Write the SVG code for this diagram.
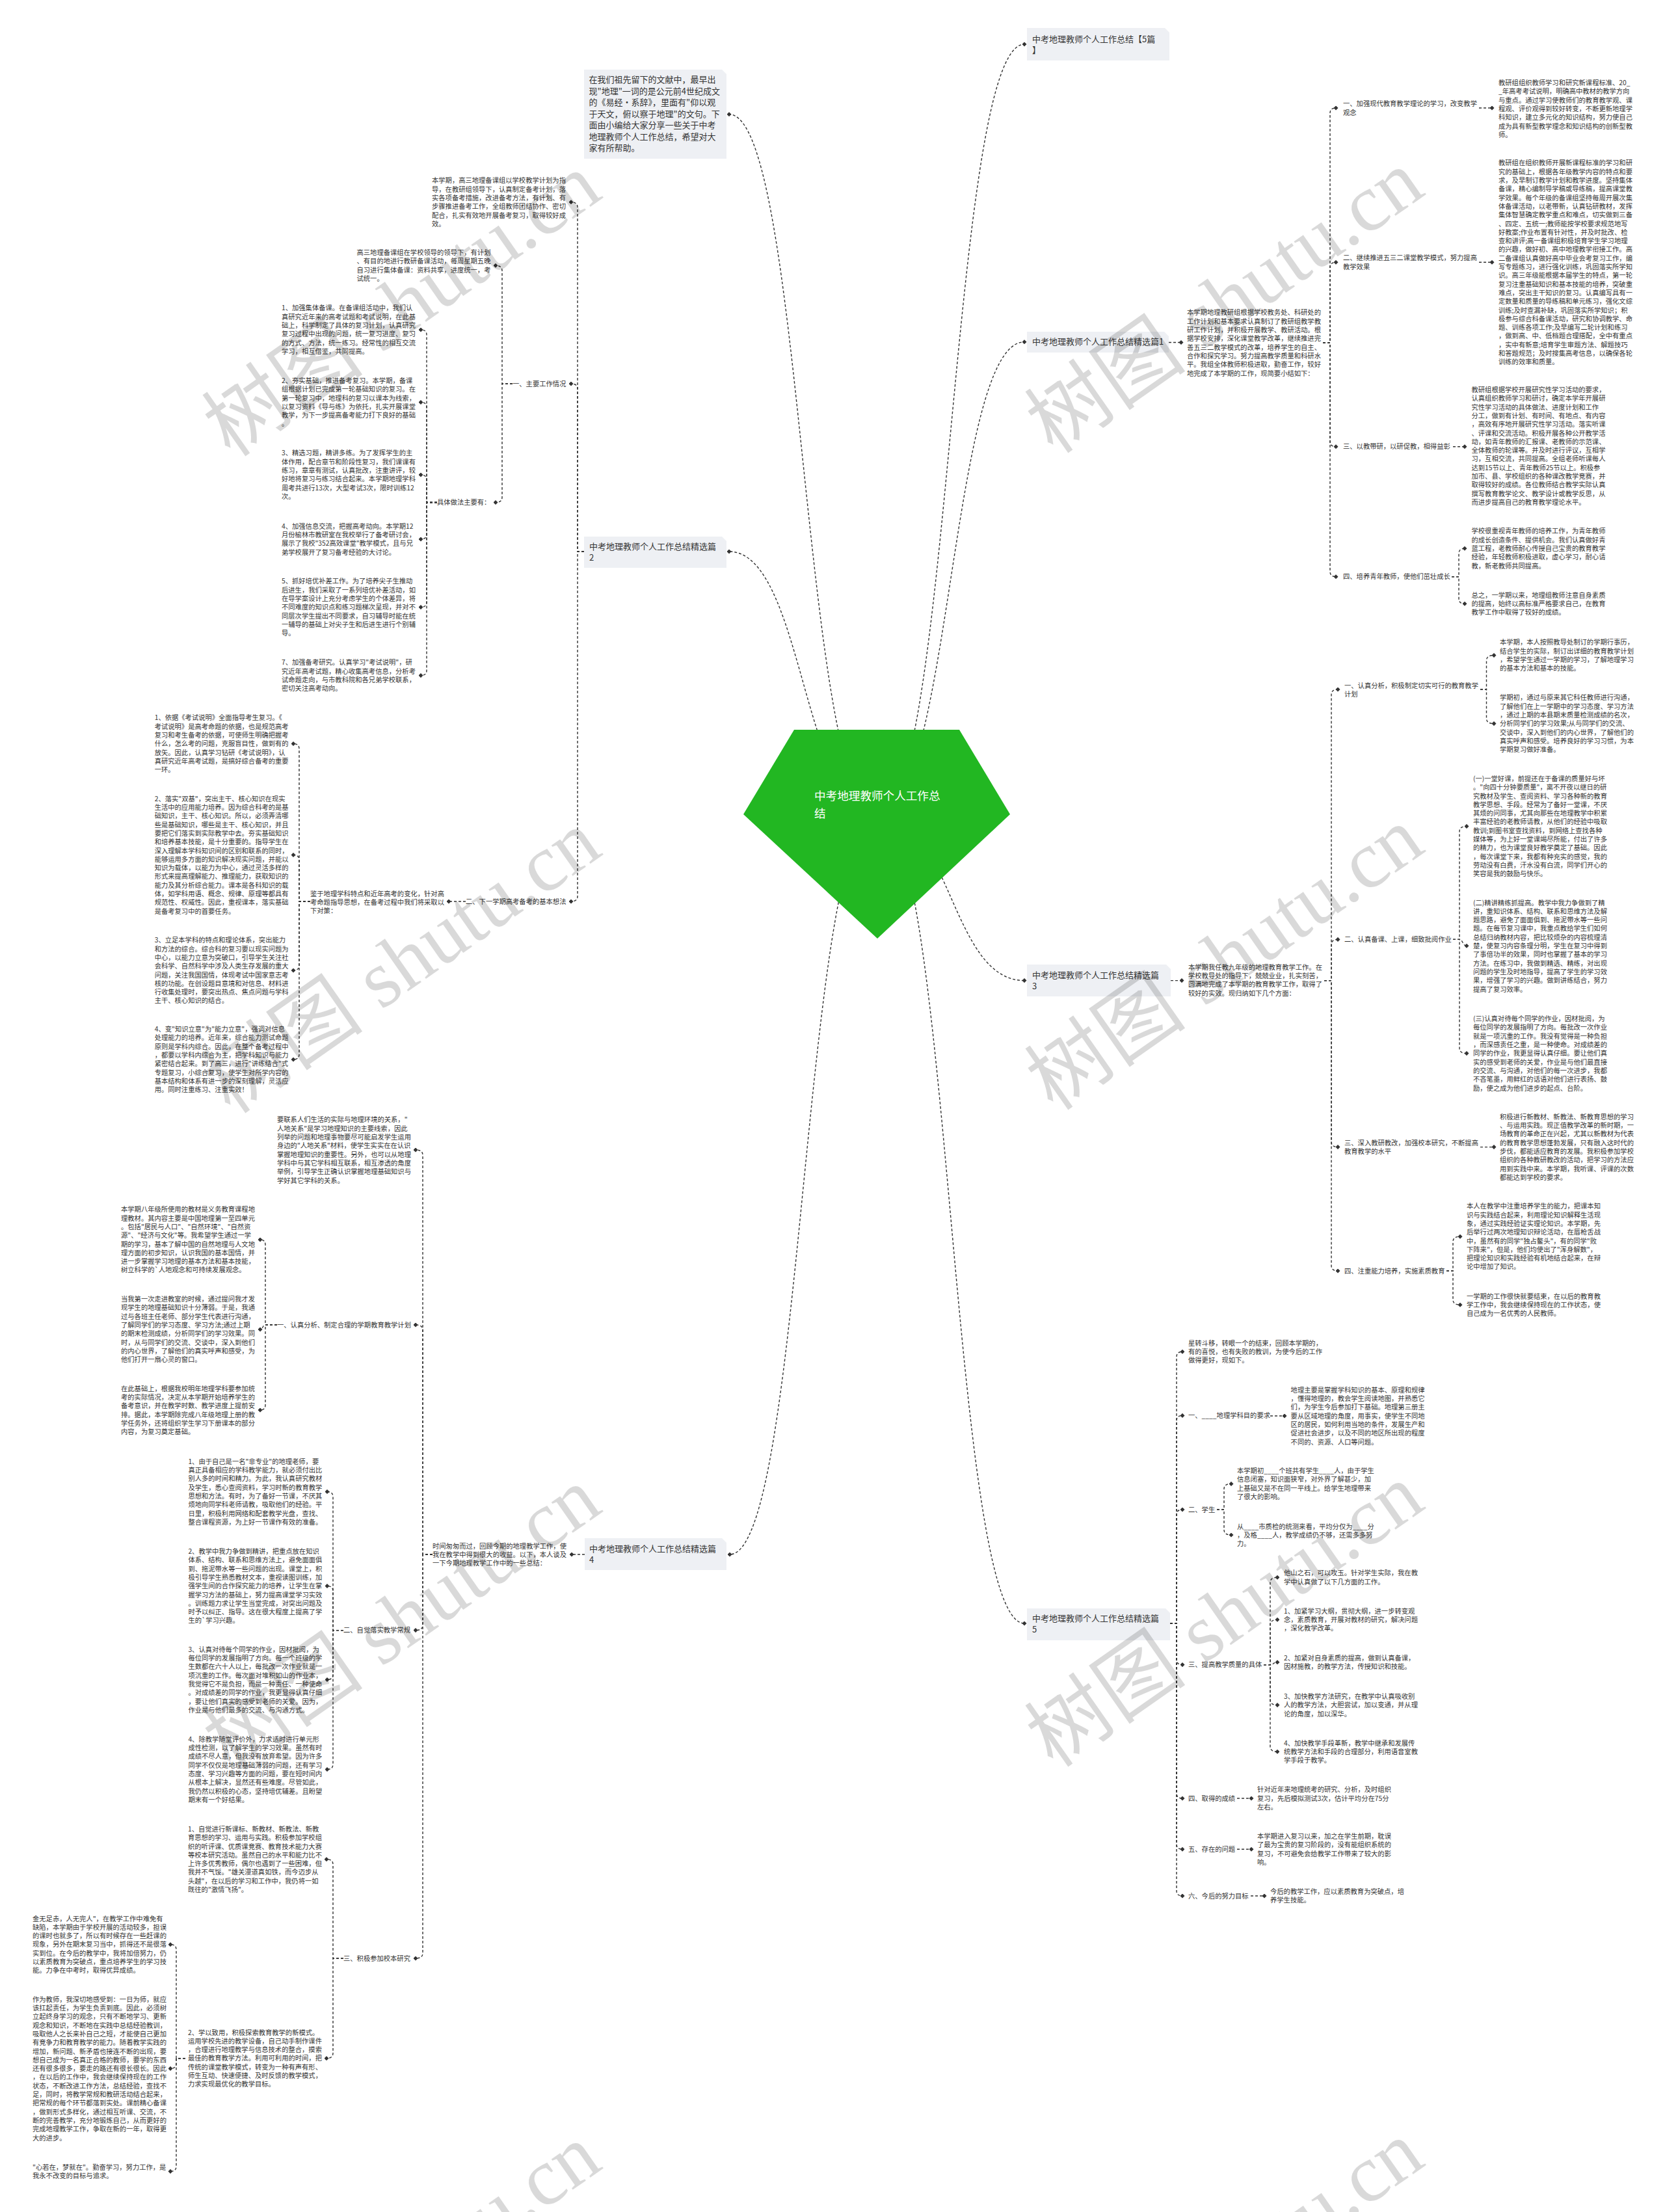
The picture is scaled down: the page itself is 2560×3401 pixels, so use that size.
<svg xmlns="http://www.w3.org/2000/svg" width="2560" height="3401" viewBox="0 0 2560 3401">
<defs>
<style>
.t{font-family:"Noto Sans CJK SC","Liberation Sans",sans-serif;font-size:10.3px;fill:#333}
.bt{font-family:"Noto Sans CJK SC","Liberation Sans",sans-serif;font-size:13px;fill:#333}
.ct{font-family:"Noto Sans CJK SC","Liberation Sans",sans-serif;font-size:17.6px;fill:#fff}
.box{fill:#eef0f4}
.c{fill:none;stroke:#333;stroke-width:1.4;stroke-dasharray:4 3;marker-end:url(#d)}
.wm{font-family:"Liberation Serif","Noto Sans CJK SC",serif;font-size:125px;fill:#000;fill-opacity:0.15}
</style>
<marker id="d" viewBox="0 0 8 8" refX="4" refY="4" markerWidth="7" markerHeight="7" markerUnits="userSpaceOnUse" orient="auto"><path d="M0,4 L4,0 L8,4 L4,8 Z" fill="#333"/></marker>
</defs>
<rect width="2560" height="3401" fill="#fff"/>

<g id="connectors">
<path class="c" d="M1349,1252 C1235,1252 1235,175.7 1121,175.7"/>
<path class="c" d="M1349,1252 C1235,1252 1235,848 1121,848"/>
<path class="c" d="M1349,1252 C1235.5,1252 1235.5,2390 1122,2390"/>
<path class="c" d="M1349,1252 C1462,1252 1462,68 1575,68"/>
<path class="c" d="M1349,1252 C1462,1252 1462,525.7 1575,525.7"/>
<path class="c" d="M1349,1252 C1462,1252 1462,1507.6 1575,1507.6"/>
<path class="c" d="M1349,1252 C1462,1252 1462,2496 1575,2496"/>

<path class="c" d="M898,848 H888 V318.7 Q888,310.7 878,310.7"/>
<path class="c" d="M898,848 H888 V598 Q888,590 878,590"/>
<path class="c" d="M898,848 H888 V1378 Q888,1386 878,1386"/>
<path class="c" d="M788,590 H772 V416.3 Q772,408.3 762,408.3"/>
<path class="c" d="M788,590 H772 V764.5 Q772,772.5 762,772.5"/>
<path class="c" d="M672,772.5 H656 V515 Q656,507 647,507"/>
<path class="c" d="M672,772.5 H656 V626.5 Q656,618.5 647,618.5"/>
<path class="c" d="M672,772.5 H656 V738 Q656,730 647,730"/>
<path class="c" d="M672,772.5 H656 V821 Q656,829 647,829"/>
<path class="c" d="M672,772.5 H656 V925.6 Q656,933.6 647,933.6"/>
<path class="c" d="M672,772.5 H656 V1030.6 Q656,1038.6 647,1038.6"/>
<path class="c" d="M716,1386 H690"/>
<path class="c" d="M477,1386 H460 V1151.5 Q460,1143.5 451,1143.5"/>
<path class="c" d="M477,1386 H460 V1322.5 Q460,1314.5 451,1314.5"/>
<path class="c" d="M477,1386 H460 V1484 Q460,1492 451,1492"/>
<path class="c" d="M477,1386 H460 V1621 Q460,1629 451,1629"/>

<path class="c" d="M899,2390 H879"/>
<path class="c" d="M665,2390 H650 V1776 Q650,1768 639,1768"/>
<path class="c" d="M665,2390 H650 V2045 Q650,2037 639,2037"/>
<path class="c" d="M665,2390 H650 V2498.6 Q650,2506.6 639,2506.6"/>
<path class="c" d="M665,2390 H650 V3003 Q650,3011 639,3011"/>
<path class="c" d="M426,2037 H408 V1914 Q408,1906 400,1906"/>
<path class="c" d="M426,2037 H408 C404,2037 404,2044 400,2044"/>
<path class="c" d="M426,2037 H408 V2160 Q408,2168 400,2168"/>
<path class="c" d="M528,2506.6 H512 V2301.5 Q512,2293.5 503,2293.5"/>
<path class="c" d="M528,2506.6 H512 V2446.5 Q512,2438.5 503,2438.5"/>
<path class="c" d="M528,2506.6 H512 V2574.5 Q512,2582.5 503,2582.5"/>
<path class="c" d="M528,2506.6 H512 V2712.5 Q512,2720.5 503,2720.5"/>
<path class="c" d="M528,3011 H512 V2866.7 Q512,2858.7 502,2858.7"/>
<path class="c" d="M528,3011 H512 V3156.7 Q512,3164.7 502,3164.7"/>
<path class="c" d="M285,3164.7 H271 V2997.7 Q271,2989.7 262,2989.7"/>
<path class="c" d="M285,3164.7 H271 V3172.4 Q271,3180.4 262,3180.4"/>
<path class="c" d="M285,3164.7 H271 V3330.6 Q271,3338.6 262,3338.6"/>

<path class="c" d="M1797,526.5 H1816"/>
<path class="c" d="M2034,527 H2045 V174 Q2045,166 2054,166"/>
<path class="c" d="M2034,527 H2045 V411.3 Q2045,403.3 2054,403.3"/>
<path class="c" d="M2034,527 H2045 V678.7 Q2045,686.7 2054,686.7"/>
<path class="c" d="M2034,527 H2045 V878.7 Q2045,886.7 2054,886.7"/>
<path class="c" d="M2274,166 H2294"/>
<path class="c" d="M2274,403.3 H2294"/>
<path class="c" d="M2234,686.7 H2252"/>
<path class="c" d="M2232,886.7 H2243 V851.3 Q2243,843.3 2252,843.3"/>
<path class="c" d="M2232,886.7 H2243 V920.3 Q2243,928.3 2252,928.3"/>

<path class="c" d="M1800,1507.6 H1817"/>
<path class="c" d="M2036,1507.6 H2047 V1068 Q2047,1060 2057,1060"/>
<path class="c" d="M2036,1507.6 H2047 V1452.4 Q2047,1444.4 2057,1444.4"/>
<path class="c" d="M2036,1507.6 H2047 V1755.6 Q2047,1763.6 2057,1763.6"/>
<path class="c" d="M2036,1507.6 H2047 V1946 Q2047,1954 2057,1954"/>
<path class="c" d="M2276,1060 H2285.5 V1015.6 Q2285.5,1007.6 2297,1007.6"/>
<path class="c" d="M2276,1060 H2285.5 V1104.6 Q2285.5,1112.6 2297,1112.6"/>
<path class="c" d="M2234,1444.4 H2244 V1278.4 Q2244,1270.4 2255,1270.4"/>
<path class="c" d="M2234,1444.4 H2244 C2249,1444.4 2249,1454.3 2255,1454.3"/>
<path class="c" d="M2234,1444.4 H2244 V1611.6 Q2244,1619.6 2255,1619.6"/>
<path class="c" d="M2276,1763.6 H2297"/>
<path class="c" d="M2224,1954 H2234 V1909.2 Q2234,1901.2 2245,1901.2"/>
<path class="c" d="M2224,1954 H2234 V1998.2 Q2234,2006.2 2245,2006.2"/>

<path class="c" d="M1799,2496 H1809 V2086.3 Q1809,2078.3 1818,2078.3"/>
<path class="c" d="M1799,2496 H1809 V2184.4 Q1809,2176.4 1818,2176.4"/>
<path class="c" d="M1799,2496 H1809 V2329 Q1809,2321 1818,2321"/>
<path class="c" d="M1799,2496 H1809 V2551.6 Q1809,2559.6 1818,2559.6"/>
<path class="c" d="M1799,2496 H1809 V2757 Q1809,2765 1818,2765"/>
<path class="c" d="M1799,2496 H1809 V2835.3 Q1809,2843.3 1818,2843.3"/>
<path class="c" d="M1799,2496 H1809 V2907 Q1809,2915 1818,2915"/>
<path class="c" d="M1953,2177 H1975"/>
<path class="c" d="M1871,2321 H1882 V2289.4 Q1882,2281.4 1893,2281.4"/>
<path class="c" d="M1871,2321 H1882 V2352.1 Q1882,2360.1 1893,2360.1"/>
<path class="c" d="M1943,2559.6 H1953 V2433.3 Q1953,2425.3 1964,2425.3"/>
<path class="c" d="M1943,2559.6 H1953 V2498.3 Q1953,2490.3 1964,2490.3"/>
<path class="c" d="M1943,2559.6 H1953 C1958,2559.6 1958,2555.7 1964,2555.7"/>
<path class="c" d="M1943,2559.6 H1953 V2613.6 Q1953,2621.6 1964,2621.6"/>
<path class="c" d="M1943,2559.6 H1953 V2685.3 Q1953,2693.3 1964,2693.3"/>
<path class="c" d="M1902,2765 H1924"/>
<path class="c" d="M1902,2843.3 H1924"/>
<path class="c" d="M1923,2915 H1944"/>
</g>

<g id="center">
<polygon points="1221,1122 1475,1122 1553,1252 1349,1443 1143,1252" fill="#22b722"/>
<text class="ct" x="1252" y="1230"><tspan x="1252">中考地理教师个人工作总</tspan><tspan x="1252" dy="27">结</tspan></text>
</g>

<g id="intro">
<path class="box" d="M898,107 H1110 L1117,114 V244 H898 Z"/>
<text class="bt" x="905.5" y="127"><tspan x="905.5">在我们祖先留下的文献中，最早出</tspan><tspan x="905.5" dy="17.5">现"地理"一词的是公元前4世纪成文</tspan><tspan x="905.5" dy="17.5">的《易经·系辞》，里面有"仰以观</tspan><tspan x="905.5" dy="17.5">于天文，俯以察于地理"的文句。下</tspan><tspan x="905.5" dy="17.5">面由小编给大家分享一些关于中考</tspan><tspan x="905.5" dy="17.5">地理教师个人工作总结，希望对大</tspan><tspan x="905.5" dy="17.5">家有所帮助。</tspan></text>
</g>

<g id="pian2">
<path class="box" d="M898,825 H1110 L1117,832 V873 H898 Z"/>
<text class="bt" x="906" y="844.7"><tspan x="906">中考地理教师个人工作总结精选篇</tspan><tspan x="906" dy="17.5">2</tspan></text>
</g>
<g id="p2-intro">
<text class="t" x="664" y="281.4"><tspan x="664">本学期，高三地理备课组以学校教学计划为指</tspan><tspan x="664" dy="13.3">导，在教研组领导下，认真制定备考计划，落</tspan><tspan x="664" dy="13.3">实各项备考措施，改进备考方法，有计划、有</tspan><tspan x="664" dy="13.3">步骤推进备考工作，全组教师团结协作、密切</tspan><tspan x="664" dy="13.3">配合，扎实有效地开展备考复习，取得较好成</tspan><tspan x="664" dy="13.3">效。</tspan></text>
</g>
<g id="p2-1"><text class="t" x="788" y="593.7">一、主要工作情况</text></g>
<g id="p2-1a">
<text class="t" x="548.5" y="392"><tspan x="548.5">高三地理备课组在学校领导的领导下，有计划</tspan><tspan x="548.5" dy="13.3">、有目的地进行教研备课活动，每周星期五晚</tspan><tspan x="548.5" dy="13.3">自习进行集体备课：资料共享，进度统一，考</tspan><tspan x="548.5" dy="13.3">试统一。</tspan></text>
</g>
<g id="p2-1b"><text class="t" x="672" y="776.2">具体做法主要有：</text></g>
<g id="p2-1b-1">
<text class="t" x="433" y="477.4"><tspan x="433">1、加强集体备课。在备课组活动中，我们认</tspan><tspan x="433" dy="13.3">真研究近年来的高考试题和考试说明，在此基</tspan><tspan x="433" dy="13.3">础上，科学制定了具体的复习计划，认真研究</tspan><tspan x="433" dy="13.3">复习过程中出现的问题，统一复习进度、复习</tspan><tspan x="433" dy="13.3">的方式、方法，统一练习。经常性的相互交流</tspan><tspan x="433" dy="13.3">学习，相互借鉴，共同提高。</tspan></text>
</g>
<g id="p2-1b-2">
<text class="t" x="433" y="588.9"><tspan x="433">2、夯实基础，推进备考复习。本学期，备课</tspan><tspan x="433" dy="13.3">组根据计划已完成第一轮基础知识的复习。在</tspan><tspan x="433" dy="13.3">第一轮复习中，地理科的复习以课本为线索，</tspan><tspan x="433" dy="13.3">以复习资料《导与练》为依托，扎实开展课堂</tspan><tspan x="433" dy="13.3">教学，为下一步提高备考能力打下良好的基础</tspan><tspan x="433" dy="13.3">。</tspan></text>
</g>
<g id="p2-1b-3">
<text class="t" x="433" y="700.4"><tspan x="433">3、精选习题，精讲多练。为了发挥学生的主</tspan><tspan x="433" dy="13.3">体作用，配合章节和阶段性复习，我们课课有</tspan><tspan x="433" dy="13.3">练习，章章有测试，认真批改，注重讲评，较</tspan><tspan x="433" dy="13.3">好地将复习与练习结合起来。本学期地理学科</tspan><tspan x="433" dy="13.3">周考共进行13次，大型考试3次，限时训练12</tspan><tspan x="433" dy="13.3">次。</tspan></text>
</g>
<g id="p2-1b-4">
<text class="t" x="433" y="812.7"><tspan x="433">4、加强信息交流，把握高考动向。本学期12</tspan><tspan x="433" dy="13.3">月份榆林市教研室在我校举行了备考研讨会，</tspan><tspan x="433" dy="13.3">展示了我校"352高效课堂"教学模式，且与兄</tspan><tspan x="433" dy="13.3">弟学校展开了复习备考经验的大讨论。</tspan></text>
</g>
<g id="p2-1b-5">
<text class="t" x="433" y="897.4"><tspan x="433">5、抓好培优补差工作。为了培养尖子生推动</tspan><tspan x="433" dy="13.3">后进生，我们采取了一系列培优补差活动，如</tspan><tspan x="433" dy="13.3">在导学案设计上充分考虑学生的个体差异，将</tspan><tspan x="433" dy="13.3">不同难度的知识点和练习题梯次呈现，并对不</tspan><tspan x="433" dy="13.3">同层次学生提出不同要求，自习辅导时能在统</tspan><tspan x="433" dy="13.3">一辅导的基础上对尖子生和后进生进行个别辅</tspan><tspan x="433" dy="13.3">导。</tspan></text>
</g>
<g id="p2-1b-7">
<text class="t" x="433" y="1022.4"><tspan x="433">7、加强备考研究。认真学习"考试说明"，研</tspan><tspan x="433" dy="13.3">究近年高考试题，精心收集高考信息，分析考</tspan><tspan x="433" dy="13.3">试命题走向，与市教科院和各兄弟学校联系，</tspan><tspan x="433" dy="13.3">密切关注高考动向。</tspan></text>
</g>
<g id="p2-2"><text class="t" x="716" y="1389.7">二、下一学期高考备考的基本想法</text></g>
<g id="p2-2a">
<text class="t" x="477" y="1377.7"><tspan x="477">鉴于地理学科特点和近年高考的变化，针对高</tspan><tspan x="477" dy="13.3">考命题指导思想，在备考过程中我们将采取以</tspan><tspan x="477" dy="13.3">下对策：</tspan></text>
</g>
<g id="p2-2a-1">
<text class="t" x="237.7" y="1107.3"><tspan x="237.7">1、依据《考试说明》全面指导考生复习。《</tspan><tspan x="237.7" dy="13.3">考试说明》是高考命题的依据，也是规范高考</tspan><tspan x="237.7" dy="13.3">复习和考生备考的依据，可使师生明确把握考</tspan><tspan x="237.7" dy="13.3">什么，怎么考的问题，克服盲目性，做到有的</tspan><tspan x="237.7" dy="13.3">放矢。因此，认真学习钻研《考试说明》，认</tspan><tspan x="237.7" dy="13.3">真研究近年高考试题，是搞好综合备考的重要</tspan><tspan x="237.7" dy="13.3">一环。</tspan></text>
</g>
<g id="p2-2a-2">
<text class="t" x="237.7" y="1231.7"><tspan x="237.7">2、落实"双基"，突出主干、核心知识在现实</tspan><tspan x="237.7" dy="13.3">生活中的应用能力培养。因为综合科考的是基</tspan><tspan x="237.7" dy="13.3">础知识，主干、核心知识。所以，必须弄清哪</tspan><tspan x="237.7" dy="13.3">些是基础知识，哪些是主干、核心知识，并且</tspan><tspan x="237.7" dy="13.3">要把它们落实到实际教学中去。夯实基础知识</tspan><tspan x="237.7" dy="13.3">和培养基本技能，是十分重要的。指导学生在</tspan><tspan x="237.7" dy="13.3">深入理解本学科知识间的区别和联系的同时，</tspan><tspan x="237.7" dy="13.3">能够运用多方面的知识解决现实问题，并能以</tspan><tspan x="237.7" dy="13.3">知识为载体，以能力为中心，通过灵活多样的</tspan><tspan x="237.7" dy="13.3">形式来提高理解能力、推理能力，获取知识的</tspan><tspan x="237.7" dy="13.3">能力及其分析综合能力。课本是各科知识的载</tspan><tspan x="237.7" dy="13.3">体，如学科用语、概念、规律、原理等都具有</tspan><tspan x="237.7" dy="13.3">规范性、权威性。因此，重视课本，落实基础</tspan><tspan x="237.7" dy="13.3">是备考复习中的首要任务。</tspan></text>
</g>
<g id="p2-2a-3">
<text class="t" x="237.7" y="1449.3"><tspan x="237.7">3、立足本学科的特点和理论体系，突出能力</tspan><tspan x="237.7" dy="13.3">和方法的综合。综合科的复习要以现实问题为</tspan><tspan x="237.7" dy="13.3">中心，以能力立意为突破口，引导学生关注社</tspan><tspan x="237.7" dy="13.3">会科学、自然科学中涉及人类生存发展的重大</tspan><tspan x="237.7" dy="13.3">问题，关注我国国情，体现考试中国家意志考</tspan><tspan x="237.7" dy="13.3">核的功能。在创设题目意境和对信息、材料进</tspan><tspan x="237.7" dy="13.3">行收集处理时，要突出热点、焦点问题与学科</tspan><tspan x="237.7" dy="13.3">主干、核心知识的结合。</tspan></text>
</g>
<g id="p2-2a-4">
<text class="t" x="237.7" y="1586.1"><tspan x="237.7">4、变"知识立意"为"能力立意"，强调对信息</tspan><tspan x="237.7" dy="13.3">处理能力的培养。近年来，综合能力测试命题</tspan><tspan x="237.7" dy="13.3">原则是学科内综合。因此，在整个备考过程中</tspan><tspan x="237.7" dy="13.3">，都要以学科内综合为主，把学科知识与能力</tspan><tspan x="237.7" dy="13.3">紧密结合起来。到了高三，进行"讲练结合"式</tspan><tspan x="237.7" dy="13.3">专题复习，小综合复习，使学生对所学内容的</tspan><tspan x="237.7" dy="13.3">基本结构和体系有进一步的深刻理解，灵活应</tspan><tspan x="237.7" dy="13.3">用。同时注重练习、注重实效！</tspan></text>
</g>

<g id="pian4">
<path class="box" d="M899,2365 H1110 L1117,2372 V2414 H899 Z"/>
<text class="bt" x="906" y="2385.7"><tspan x="906">中考地理教师个人工作总结精选篇</tspan><tspan x="906" dy="17.5">4</tspan></text>
</g>
<g id="p4-intro">
<text class="t" x="665" y="2380.7"><tspan x="665">时间匆匆而过，回顾今期的地理教学工作，使</tspan><tspan x="665" dy="13.3">我在教学中得到很大的收益。以下，本人谈及</tspan><tspan x="665" dy="13.3">一下今期地理教学工作中的一些总结：</tspan></text>
</g>
<g id="p4-a">
<text class="t" x="426" y="1725.4"><tspan x="426">要联系人们生活的实际与地理环境的关系，"</tspan><tspan x="426" dy="13.3">人地关系"是学习地理知识的主要线索，因此</tspan><tspan x="426" dy="13.3">列举的问题和地理事物要尽可能启发学生运用</tspan><tspan x="426" dy="13.3">身边的"人地关系"材料，使学生实实在在认识</tspan><tspan x="426" dy="13.3">掌握地理知识的重要性。另外，也可以从地理</tspan><tspan x="426" dy="13.3">学科中与其它学科相互联系，相互渗透的角度</tspan><tspan x="426" dy="13.3">举例，引导学生正确认识掌握地理基础知识与</tspan><tspan x="426" dy="13.3">学好其它学科的关系。</tspan></text>
</g>
<g id="p4-1"><text class="t" x="426" y="2041.1">一、认真分析、制定合理的学期教育教学计划</text></g>
<g id="p4-1-1">
<text class="t" x="186" y="1863.3"><tspan x="186">本学期八年级所使用的教材是义务教育课程地</tspan><tspan x="186" dy="13.3">理教材。其内容主要是中国地理第一至四单元</tspan><tspan x="186" dy="13.3">。包括"居民与人口"、"自然环境"、"自然资</tspan><tspan x="186" dy="13.3">源"、"经济与文化"等。我希望学生通过一学</tspan><tspan x="186" dy="13.3">期的学习，基本了解中国的自然地理与人文地</tspan><tspan x="186" dy="13.3">理方面的初步知识，认识我国的基本国情，并</tspan><tspan x="186" dy="13.3">进一步掌握学习地理的基本方法和基本技能，</tspan><tspan x="186" dy="13.3">树立科学的`人地观念和可持续发展观念。</tspan></text>
</g>
<g id="p4-1-2">
<text class="t" x="186" y="2001.1"><tspan x="186">当我第一次走进教室的时候，通过提问我才发</tspan><tspan x="186" dy="13.3">现学生的地理基础知识十分薄弱。于是，我通</tspan><tspan x="186" dy="13.3">过与各班主任老师、部分学生代表进行沟通，</tspan><tspan x="186" dy="13.3">了解同学们的学习态度、学习方法;通过上期</tspan><tspan x="186" dy="13.3">的期末检测成绩，分析同学们的学习效果。同</tspan><tspan x="186" dy="13.3">时，从与同学们的交流、交谈中，深入到他们</tspan><tspan x="186" dy="13.3">的内心世界，了解他们的真实呼声和感受，为</tspan><tspan x="186" dy="13.3">他们打开一扇心灵的窗口。</tspan></text>
</g>
<g id="p4-1-3">
<text class="t" x="186" y="2138.7"><tspan x="186">在此基础上，根据我校明年地理学科要参加统</tspan><tspan x="186" dy="13.3">考的实际情况，决定从本学期开始培养学生的</tspan><tspan x="186" dy="13.3">备考意识，并在教学时数、教学进度上提前安</tspan><tspan x="186" dy="13.3">排。据此，本学期除完成八年级地理上册的教</tspan><tspan x="186" dy="13.3">学任务外，还将组织学生学习下册课本的部分</tspan><tspan x="186" dy="13.3">内容，为复习奠定基础。</tspan></text>
</g>
<g id="p4-2"><text class="t" x="528" y="2510.3">二、自觉落实教学常规</text></g>
<g id="p4-2-1">
<text class="t" x="289.4" y="2250.7"><tspan x="289.4">1、由于自己是一名"非专业"的地理老师，要</tspan><tspan x="289.4" dy="13.3">真正具备相应的学科教学能力，就必须付出比</tspan><tspan x="289.4" dy="13.3">别人多的时间和精力。为此，我认真研究教材</tspan><tspan x="289.4" dy="13.3">及学生，悉心查阅资料，学习时新的教育教学</tspan><tspan x="289.4" dy="13.3">思想和方法。有时，为了备好一节课，不厌其</tspan><tspan x="289.4" dy="13.3">烦地向同学科老师请教，吸取他们的经验。平</tspan><tspan x="289.4" dy="13.3">日里，积极利用网络和配套教学光盘，查找、</tspan><tspan x="289.4" dy="13.3">整合课程资源，为上好一节课作有效的准备。</tspan></text>
</g>
<g id="p4-2-2">
<text class="t" x="289.4" y="2389"><tspan x="289.4">2、教学中我力争做到精讲，把重点放在知识</tspan><tspan x="289.4" dy="13.3">体系、结构、联系和思维方法上，避免面面俱</tspan><tspan x="289.4" dy="13.3">到、拖泥带水等一些问题的出现。课堂上，积</tspan><tspan x="289.4" dy="13.3">极引导学生熟悉教材文本，重视读图训练，加</tspan><tspan x="289.4" dy="13.3">强学生间的合作探究能力的培养，让学生在掌</tspan><tspan x="289.4" dy="13.3">握学习方法的基础上，努力提高课堂学习实效</tspan><tspan x="289.4" dy="13.3">。训练题力求让学生当堂完成，对突出问题及</tspan><tspan x="289.4" dy="13.3">时予以纠正、指导。这在很大程度上提高了学</tspan><tspan x="289.4" dy="13.3">生的`学习兴趣。</tspan></text>
</g>
<g id="p4-2-3">
<text class="t" x="289.4" y="2539.7"><tspan x="289.4">3、认真对待每个同学的作业，因材批阅，为</tspan><tspan x="289.4" dy="13.3">每位同学的发展指明了方向。每一个班级的学</tspan><tspan x="289.4" dy="13.3">生数都在六十人以上，每批改一次作业就是一</tspan><tspan x="289.4" dy="13.3">项沉重的工作。每次面对堆积如山的作业本，</tspan><tspan x="289.4" dy="13.3">我觉得它不是负担，而是一种责任、一种使命</tspan><tspan x="289.4" dy="13.3">。对成绩差的同学的作业，我更显得认真仔细</tspan><tspan x="289.4" dy="13.3">，要让他们真实的感受到老师的关爱。因为，</tspan><tspan x="289.4" dy="13.3">作业是与他们最多的交流、与沟通方式。</tspan></text>
</g>
<g id="p4-2-4">
<text class="t" x="289.4" y="2677.7"><tspan x="289.4">4、除教学随堂评价外，力求适时进行单元形</tspan><tspan x="289.4" dy="13.3">成性检测，以了解学生的学习效果。虽然有时</tspan><tspan x="289.4" dy="13.3">成绩不尽人意，但我没有放弃希望。因为许多</tspan><tspan x="289.4" dy="13.3">同学不仅仅是地理基础薄弱的问题，还有学习</tspan><tspan x="289.4" dy="13.3">态度、学习兴趣等方面的问题，要在短时间内</tspan><tspan x="289.4" dy="13.3">从根本上解决，显然还有些难度。尽管如此，</tspan><tspan x="289.4" dy="13.3">我仍然以积极的心态，坚持培优辅差。且盼望</tspan><tspan x="289.4" dy="13.3">期末有一个好结果。</tspan></text>
</g>
<g id="p4-3"><text class="t" x="528" y="3014.7">三、积极参加校本研究</text></g>
<g id="p4-3-1">
<text class="t" x="289" y="2815.9"><tspan x="289">1、自觉进行新课标、新教材、新教法、新教</tspan><tspan x="289" dy="13.3">育思想的学习、运用与实践。积极参加学校组</tspan><tspan x="289" dy="13.3">织的听评课、优质课竞赛、教育技术能力大赛</tspan><tspan x="289" dy="13.3">等校本研究活动。虽然自己的水平和能力比不</tspan><tspan x="289" dy="13.3">上许多优秀教师，偶尔也遇到了一些困难，但</tspan><tspan x="289" dy="13.3">我并不气馁。"雄关漫道真如铁，而今迈步从</tspan><tspan x="289" dy="13.3">头越"，在以后的学习和工作中，我仍将一如</tspan><tspan x="289" dy="13.3">既往的"激情飞扬"。</tspan></text>
</g>
<g id="p4-3-2">
<text class="t" x="289" y="3128.5"><tspan x="289">2、学以致用，积极探索教育教学的新模式。</tspan><tspan x="289" dy="13.3">运用学校先进的教学设备，自己动手制作课件</tspan><tspan x="289" dy="13.3">，合理进行地理教学与信息技术的整合，摸索</tspan><tspan x="289" dy="13.3">最佳的教育教学方法。利用可利用的时间，把</tspan><tspan x="289" dy="13.3">传统的课堂教学模式，转变为一种有声有形、</tspan><tspan x="289" dy="13.3">师生互动、快速便捷、及时反馈的教学模式，</tspan><tspan x="289" dy="13.3">力求实现最优化的教学目标。</tspan></text>
</g>
<g id="p4-3-2-a">
<text class="t" x="50" y="2953.5"><tspan x="50">金无足赤，人无完人"，在教学工作中难免有</tspan><tspan x="50" dy="13.3">缺陷，本学期由于学校开展的活动较多，担误</tspan><tspan x="50" dy="13.3">的课时也就多了，所以有时候存在一些赶课的</tspan><tspan x="50" dy="13.3">现象，另外在期末复习当中，抓得还不是很落</tspan><tspan x="50" dy="13.3">实到位。在今后的教学中，我将加倍努力，仍</tspan><tspan x="50" dy="13.3">以素质教育为突破点，重点培养学生的学习技</tspan><tspan x="50" dy="13.3">能。力争在中考时，取得优异成绩。</tspan></text>
</g>
<g id="p4-3-2-b">
<text class="t" x="50" y="3077.7"><tspan x="50">作为教师，我深切地感受到：一日为师，就应</tspan><tspan x="50" dy="13.3">该扛起责任，为学生负责到底。因此，必须树</tspan><tspan x="50" dy="13.3">立起终身学习的观念，只有不断地学习、更新</tspan><tspan x="50" dy="13.3">观念和知识，不断地在实践中总结经验教训，</tspan><tspan x="50" dy="13.3">吸取他人之长来补自己之短，才能使自己更加</tspan><tspan x="50" dy="13.3">有竞争力和教育教学的能力。随着教学实践的</tspan><tspan x="50" dy="13.3">增加，新问题、新矛盾也接连不断的出现，要</tspan><tspan x="50" dy="13.3">想自己成为一名真正合格的教师，要学的东西</tspan><tspan x="50" dy="13.3">还有很多很多，要走的路还有很长很长。因此</tspan><tspan x="50" dy="13.3">，在以后的工作中，我会继续保持现在的工作</tspan><tspan x="50" dy="13.3">状态，不断改进工作方法，总结经验，查找不</tspan><tspan x="50" dy="13.3">足，同时，将教学常规和教研活动结合起来，</tspan><tspan x="50" dy="13.3">把常规的每个环节都落到实处。课前精心备课</tspan><tspan x="50" dy="13.3">，做到形式多样化，通过相互听课、交流，不</tspan><tspan x="50" dy="13.3">断的完善教学，充分地锻炼自己，从而更好的</tspan><tspan x="50" dy="13.3">完成地理教学工作，争取在新的一年，取得更</tspan><tspan x="50" dy="13.3">大的进步。</tspan></text>
</g>
<g id="p4-3-2-c">
<text class="t" x="50" y="3335.7"><tspan x="50">"心若在，梦就在"。勤奋学习，努力工作，是</tspan><tspan x="50" dy="13.3">我永不改变的目标与追求。</tspan></text>
</g>

<g id="pian5-title">
<path class="box" d="M1579,43 H1791 L1798,50 V93 H1579 Z"/>
<text class="bt" x="1587" y="64.7"><tspan x="1587">中考地理教师个人工作总结【5篇</tspan><tspan x="1587" dy="17.5">】</tspan></text>
</g>

<g id="pian1">
<path class="box" d="M1579,510 H1790 L1797,517 V542 H1579 Z"/>
<text class="bt" x="1587" y="530.4">中考地理教师个人工作总结精选篇1</text>
</g>
<g id="p1-intro">
<text class="t" x="1825" y="484.4"><tspan x="1825">本学期地理教研组根据学校教务处、科研处的</tspan><tspan x="1825" dy="13.3">工作计划和基本要求认真制订了教研组教学教</tspan><tspan x="1825" dy="13.3">研工作计划，并积极开展教学、教研活动。根</tspan><tspan x="1825" dy="13.3">据学校安排，深化课堂教学改革，继续推进完</tspan><tspan x="1825" dy="13.3">善五三二教学模式的改革，培养学生的自主、</tspan><tspan x="1825" dy="13.3">合作和探究学习。努力提高教学质量和科研水</tspan><tspan x="1825" dy="13.3">平。我组全体教师积极进取，勤奋工作，较好</tspan><tspan x="1825" dy="13.3">地完成了本学期的工作，现简要小结如下：</tspan></text>
</g>
<g id="p1-1"><text class="t" x="2065" y="163.2"><tspan x="2065">一、加强现代教育教学理论的学习，改变教学</tspan><tspan x="2065" dy="13.3">观念</tspan></text></g>
<g id="p1-1a">
<text class="t" x="2304" y="131"><tspan x="2304">教研组组织教师学习和研究新课程标准、20_</tspan><tspan x="2304" dy="13.3">_年高考考试说明，明确高中教材的教学方向</tspan><tspan x="2304" dy="13.3">与重点。通过学习使教师们的教育教学观、课</tspan><tspan x="2304" dy="13.3">程观、评价观得到较好转变，不断更新地理学</tspan><tspan x="2304" dy="13.3">科知识，建立多元化的知识结构，努力使自己</tspan><tspan x="2304" dy="13.3">成为具有新型教学理念和知识结构的创新型教</tspan><tspan x="2304" dy="13.3">师。</tspan></text>
</g>
<g id="p1-2"><text class="t" x="2065" y="400.4"><tspan x="2065">二、继续推进五三二课堂教学模式，努力提高</tspan><tspan x="2065" dy="13.3">教学效果</tspan></text></g>
<g id="p1-2a">
<text class="t" x="2304" y="254.4"><tspan x="2304">教研组在组织教师开展新课程标准的学习和研</tspan><tspan x="2304" dy="13.3">究的基础上，根据各年级教学内容的特点和要</tspan><tspan x="2304" dy="13.3">求，及早制订教学计划和教学进度。坚持集体</tspan><tspan x="2304" dy="13.3">备课，精心编制导学稿或导练稿，提高课堂教</tspan><tspan x="2304" dy="13.3">学效果。每个年级的备课组坚持每周开展次集</tspan><tspan x="2304" dy="13.3">体备课活动，以老带新，认真钻研教材，发挥</tspan><tspan x="2304" dy="13.3">集体智慧确定教学重点和难点，切实做到三备</tspan><tspan x="2304" dy="13.3">、四定、五统一;教师能按学校要求规范地写</tspan><tspan x="2304" dy="13.3">好教案;作业布置有针对性，并及时批改、检</tspan><tspan x="2304" dy="13.3">查和讲评;高一备课组积极培育学生学习地理</tspan><tspan x="2304" dy="13.3">的兴趣，做好初、高中地理教学衔接工作。高</tspan><tspan x="2304" dy="13.3">二备课组认真做好高中毕业会考复习工作，编</tspan><tspan x="2304" dy="13.3">写专题练习，进行强化训练，巩固落实所学知</tspan><tspan x="2304" dy="13.3">识。高三年级能根据本届学生的特点，第一轮</tspan><tspan x="2304" dy="13.3">复习注重基础知识和基本技能的培养，突破重</tspan><tspan x="2304" dy="13.3">难点，突出主干知识的复习。认真编写具有一</tspan><tspan x="2304" dy="13.3">定数量和质量的导练稿和单元练习，强化文综</tspan><tspan x="2304" dy="13.3">训练;及时查漏补缺，巩固落实所学知识；积</tspan><tspan x="2304" dy="13.3">极参与综合科备课活动，研究和协调教学、命</tspan><tspan x="2304" dy="13.3">题、训练各项工作;及早编写二轮计划和练习</tspan><tspan x="2304" dy="13.3">，做到高、中、低档题合理搭配，全中有重点</tspan><tspan x="2304" dy="13.3">，实中有新意;培育学生审题方法、解题技巧</tspan><tspan x="2304" dy="13.3">和答题规范；及时搜集高考信息，以确保各轮</tspan><tspan x="2304" dy="13.3">训练的效率和质量。</tspan></text>
</g>
<g id="p1-3"><text class="t" x="2065" y="690.4">三、以教带研，以研促教，相得益彰</text></g>
<g id="p1-3a">
<text class="t" x="2262.5" y="603"><tspan x="2262.5">教研组根据学校开展研究性学习活动的要求，</tspan><tspan x="2262.5" dy="13.3">认真组织教师学习和研讨，确定本学年开展研</tspan><tspan x="2262.5" dy="13.3">究性学习活动的具体做法、进度计划和工作</tspan><tspan x="2262.5" dy="13.3">分工，做到有计划、有时间、有地点、有内容</tspan><tspan x="2262.5" dy="13.3">，高效有序地开展研究性学习活动。落实听课</tspan><tspan x="2262.5" dy="13.3">、评课和交流活动。积极开展各种公开教学活</tspan><tspan x="2262.5" dy="13.3">动，如青年教师的汇报课、老教师的示范课、</tspan><tspan x="2262.5" dy="13.3">全体教师的轮课等。并及时进行评议，互相学</tspan><tspan x="2262.5" dy="13.3">习，互相交流，共同提高。全组老师听课每人</tspan><tspan x="2262.5" dy="13.3">达到15节以上、青年教师25节以上。积极参</tspan><tspan x="2262.5" dy="13.3">加市、县、学校组织的各种课改教学竞赛，并</tspan><tspan x="2262.5" dy="13.3">取得较好的成绩。各位教师结合教学实际认真</tspan><tspan x="2262.5" dy="13.3">撰写教育教学论文、教学设计或教学反思，从</tspan><tspan x="2262.5" dy="13.3">而进步提高自己的教育教学理论水平。</tspan></text>
</g>
<g id="p1-4"><text class="t" x="2065" y="890.4">四、培养青年教师，使他们茁壮成长</text></g>
<g id="p1-4a">
<text class="t" x="2262.5" y="820.4"><tspan x="2262.5">学校很重视青年教师的培养工作，为青年教师</tspan><tspan x="2262.5" dy="13.3">的成长创造条件、提供机会。我们认真做好青</tspan><tspan x="2262.5" dy="13.3">蓝工程，老教师耐心传授自己宝贵的教育教学</tspan><tspan x="2262.5" dy="13.3">经验，年轻教师积极进取，虚心学习，耐心请</tspan><tspan x="2262.5" dy="13.3">教，新老教师共同提高。</tspan></text>
</g>
<g id="p1-4b">
<text class="t" x="2262.5" y="918.7"><tspan x="2262.5">总之，一学期以来，地理组教师注意自身素质</tspan><tspan x="2262.5" dy="13.3">的提高，始终以高标准严格要求自己，在教育</tspan><tspan x="2262.5" dy="13.3">教学工作中取得了较好的成绩。</tspan></text>
</g>

<g id="pian3">
<path class="box" d="M1579,1483 H1793 L1800,1490 V1532 H1579 Z"/>
<text class="bt" x="1587" y="1503.7"><tspan x="1587">中考地理教师个人工作总结精选篇</tspan><tspan x="1587" dy="17.5">3</tspan></text>
</g>
<g id="p3-intro">
<text class="t" x="1827" y="1490.7"><tspan x="1827">本学期我任教九年级的地理教育教学工作。在</tspan><tspan x="1827" dy="13.3">学校教导处的指导下，兢兢业业，扎实刻苦，</tspan><tspan x="1827" dy="13.3">圆满地完成了本学期的教育教学工作，取得了</tspan><tspan x="1827" dy="13.3">较好的实效。现归纳如下几个方面：</tspan></text>
</g>
<g id="p3-1"><text class="t" x="2067" y="1057.7"><tspan x="2067">一、认真分析，积极制定切实可行的教育教学</tspan><tspan x="2067" dy="13.3">计划</tspan></text></g>
<g id="p3-1a">
<text class="t" x="2306" y="991.4"><tspan x="2306">本学期，本人按照教导处制订的学期行事历，</tspan><tspan x="2306" dy="13.3">结合学生的实际，制订出详细的教育教学计划</tspan><tspan x="2306" dy="13.3">，希望学生通过一学期的学习，了解地理学习</tspan><tspan x="2306" dy="13.3">的基本方法和基本的技能。</tspan></text>
</g>
<g id="p3-1b">
<text class="t" x="2306" y="1076.4"><tspan x="2306">学期初，通过与原来其它科任教师进行沟通，</tspan><tspan x="2306" dy="13.3">了解他们在上一学期中的学习态度、学习方法</tspan><tspan x="2306" dy="13.3">，通过上期的本县期末质量检测成绩的名次，</tspan><tspan x="2306" dy="13.3">分析同学们的学习效果;从与同学们的交流、</tspan><tspan x="2306" dy="13.3">交谈中，深入到他们的内心世界，了解他们的</tspan><tspan x="2306" dy="13.3">真实呼声和感受。培养良好的学习习惯，为本</tspan><tspan x="2306" dy="13.3">学期复习做好准备。</tspan></text>
</g>
<g id="p3-2"><text class="t" x="2067" y="1448.1">二、认真备课、上课，细致批阅作业</text></g>
<g id="p3-2a">
<text class="t" x="2265" y="1200.9"><tspan x="2265">(一)一堂好课，前提还在于备课的质量好与坏</tspan><tspan x="2265" dy="13.3">。"向四十分钟要质量"，离不开夜以继日的研</tspan><tspan x="2265" dy="13.3">究教材及学生、查阅资料、学习各种新的教育</tspan><tspan x="2265" dy="13.3">教学思想、手段。经常为了备好一堂课，不厌</tspan><tspan x="2265" dy="13.3">其烦的问同事，尤其向那些在地理教学中积累</tspan><tspan x="2265" dy="13.3">丰富经验的老教师请教，从他们的经验中吸取</tspan><tspan x="2265" dy="13.3">教训;到图书室查找资料，到网络上查找各种</tspan><tspan x="2265" dy="13.3">媒体等，为上好一堂课竭尽所能，付出了许多</tspan><tspan x="2265" dy="13.3">的精力，也为课堂良好教学奠定了基础。因此</tspan><tspan x="2265" dy="13.3">，每次课堂下来，我都有种充实的感觉，我的</tspan><tspan x="2265" dy="13.3">劳动没有白费，汗水没有白流，同学们开心的</tspan><tspan x="2265" dy="13.3">笑容是我的鼓励与快乐。</tspan></text>
</g>
<g id="p3-2b">
<text class="t" x="2265" y="1391.5"><tspan x="2265">(二)精讲精练抓提高。教学中我力争做到了精</tspan><tspan x="2265" dy="13.3">讲，重知识体系、结构、联系和思维方法及解</tspan><tspan x="2265" dy="13.3">题思路，避免了面面俱到、拖泥带水等一些问</tspan><tspan x="2265" dy="13.3">题。在每节复习课中，我重点教给学生们如何</tspan><tspan x="2265" dy="13.3">总结归纳教材内容，把比较烦杂的内容梳理清</tspan><tspan x="2265" dy="13.3">楚，使复习内容条理分明，学生在复习中得到</tspan><tspan x="2265" dy="13.3">了事倍功半的效果，同时也掌握了基本的学习</tspan><tspan x="2265" dy="13.3">方法。在练习中，我做到精选、精练，对出现</tspan><tspan x="2265" dy="13.3">问题的学生及时地指导，提高了学生的学习效</tspan><tspan x="2265" dy="13.3">果，增强了学习的兴趣。做到讲练结合，努力</tspan><tspan x="2265" dy="13.3">提高了复习效率。</tspan></text>
</g>
<g id="p3-2c">
<text class="t" x="2265" y="1570.1"><tspan x="2265">(三)认真对待每个同学的作业，因材批阅，为</tspan><tspan x="2265" dy="13.3">每位同学的发展指明了方向。每批改一次作业</tspan><tspan x="2265" dy="13.3">就是一项沉重的工作。我没有觉得是一种负担</tspan><tspan x="2265" dy="13.3">，而深感责任之重，是一种使命。对成绩差的</tspan><tspan x="2265" dy="13.3">同学的作业，我更显得认真仔细。要让他们真</tspan><tspan x="2265" dy="13.3">实的感受到老师的关爱，作业是与他们最直接</tspan><tspan x="2265" dy="13.3">的交流、与沟通，对他们的每一次进步，我都</tspan><tspan x="2265" dy="13.3">不吝笔墨，用鲜红的话语对他们进行表扬、鼓</tspan><tspan x="2265" dy="13.3">励，使之成为他们进步的起点、台阶。</tspan></text>
</g>
<g id="p3-3"><text class="t" x="2067" y="1760.7"><tspan x="2067">三、深入教研教改，加强校本研究，不断提高</tspan><tspan x="2067" dy="13.3">教育教学的水平</tspan></text></g>
<g id="p3-3a">
<text class="t" x="2306" y="1720.7"><tspan x="2306">积极进行新教材、新教法、新教育思想的学习</tspan><tspan x="2306" dy="13.3">、与运用实践。现正值教学改革的新时期，一</tspan><tspan x="2306" dy="13.3">场教育的革命正在兴起，尤其以新教材为代表</tspan><tspan x="2306" dy="13.3">的教育教学思想蓬勃发展，只有融入这时代的</tspan><tspan x="2306" dy="13.3">步伐，都能适应教育的发展。我积极参加学校</tspan><tspan x="2306" dy="13.3">组织的各种教研教改的活动，把学习的方法应</tspan><tspan x="2306" dy="13.3">用到实践中来。本学期，我听课、评课的次数</tspan><tspan x="2306" dy="13.3">都能达到学校的要求。</tspan></text>
</g>
<g id="p3-4"><text class="t" x="2067" y="1957.7">四、注重能力培养，实施素质教育</text></g>
<g id="p3-4a">
<text class="t" x="2255" y="1858.3"><tspan x="2255">本人在教学中注重培养学生的能力，把课本知</tspan><tspan x="2255" dy="13.3">识与实践结合起来，利用理论知识解释生活现</tspan><tspan x="2255" dy="13.3">象，通过实践经验证实理论知识。本学期，先</tspan><tspan x="2255" dy="13.3">后举行过两次地理知识辩论活动，在唇枪舌战</tspan><tspan x="2255" dy="13.3">中，虽然有的同学"独占鳌头"，有的同学"败</tspan><tspan x="2255" dy="13.3">下阵来"，但是，他们均使出了"浑身解数"，</tspan><tspan x="2255" dy="13.3">把理论知识和实践经验有机地结合起来，在辩</tspan><tspan x="2255" dy="13.3">论中增加了知识。</tspan></text>
</g>
<g id="p3-4b">
<text class="t" x="2255" y="1996.6"><tspan x="2255">一学期的工作很快就要结束，在以后的教育教</tspan><tspan x="2255" dy="13.3">学工作中，我会继续保持现在的工作状态，使</tspan><tspan x="2255" dy="13.3">自己成为一名优秀的人民教师。</tspan></text>
</g>

<g id="pian5">
<path class="box" d="M1579,2473 H1792 L1799,2480 V2522 H1579 Z"/>
<text class="bt" x="1587" y="2492.7"><tspan x="1587">中考地理教师个人工作总结精选篇</tspan><tspan x="1587" dy="17.5">5</tspan></text>
</g>
<g id="p5-a">
<text class="t" x="1827" y="2068.7"><tspan x="1827">星转斗移，转眼一个的结束，回顾本学期的，</tspan><tspan x="1827" dy="13.3">有的喜悦，也有失败的教训，为使今后的工作</tspan><tspan x="1827" dy="13.3">做得更好，现如下。</tspan></text>
</g>
<g id="p5-1"><text class="t" x="1827" y="2180.1">一、____地理学科目的要求</text></g>
<g id="p5-1a">
<text class="t" x="1984.6" y="2140.7"><tspan x="1984.6">地理主要是掌握学科知识的基本、原理和规律</tspan><tspan x="1984.6" dy="13.3">，懂得地理的，教会学生阅读地图，并熟悉它</tspan><tspan x="1984.6" dy="13.3">们，为学生今后参加打下基础。地理第三册主</tspan><tspan x="1984.6" dy="13.3">要从区域地理的角度，用事实，使学生不同地</tspan><tspan x="1984.6" dy="13.3">区的居民，如何利用当地的条件，发展生产和</tspan><tspan x="1984.6" dy="13.3">促进社会进步，以及不同的地区所出现的程度</tspan><tspan x="1984.6" dy="13.3">不同的、资源、人口等问题。</tspan></text>
</g>
<g id="p5-2"><text class="t" x="1827" y="2324.7">二、学生</text></g>
<g id="p5-2a">
<text class="t" x="1902" y="2265.1"><tspan x="1902">本学期初____个班共有学生____人，由于学生</tspan><tspan x="1902" dy="13.3">信息闭塞，知识面狭窄，对外界了解甚少，加</tspan><tspan x="1902" dy="13.3">上基础又是不在同一平线上。给学生地理带来</tspan><tspan x="1902" dy="13.3">了很大的影响。</tspan></text>
</g>
<g id="p5-2b">
<text class="t" x="1902" y="2350.5"><tspan x="1902">从____市质检的统测来看，平均分仅为____分</tspan><tspan x="1902" dy="13.3">，及格____人，教学成绩仍不够，还需多多努</tspan><tspan x="1902" dy="13.3">力。</tspan></text>
</g>
<g id="p5-3"><text class="t" x="1827" y="2563.3">三、提高教学质量的具体</text></g>
<g id="p5-3a">
<text class="t" x="1974" y="2422.3"><tspan x="1974">他山之石，可以攻玉。针对学生实际，我在教</tspan><tspan x="1974" dy="13.3">学中认真做了以下几方面的工作。</tspan></text>
</g>
<g id="p5-3b">
<text class="t" x="1974" y="2480.7"><tspan x="1974">1、加紧学习大纲，贯彻大纲，进一步转变观</tspan><tspan x="1974" dy="13.3">念，素质教育，开展对教材的研究，解决问题</tspan><tspan x="1974" dy="13.3">，深化教学改革。</tspan></text>
</g>
<g id="p5-3c">
<text class="t" x="1974" y="2552.7"><tspan x="1974">2、加紧对自身素质的提高，做到认真备课，</tspan><tspan x="1974" dy="13.3">因材施教，的教学方法，传授知识和技能。</tspan></text>
</g>
<g id="p5-3d">
<text class="t" x="1974" y="2612"><tspan x="1974">3、加快教学方法研究，在教学中认真吸收别</tspan><tspan x="1974" dy="13.3">人的教学方法，大胆尝试，加以变通，并从理</tspan><tspan x="1974" dy="13.3">论的角度，加以深华。</tspan></text>
</g>
<g id="p5-3e">
<text class="t" x="1974" y="2683.7"><tspan x="1974">4、加快教学手段革新，教学中继承和发展传</tspan><tspan x="1974" dy="13.3">统教学方法和手段的合理部分，利用语音室教</tspan><tspan x="1974" dy="13.3">学手段于教学。</tspan></text>
</g>
<g id="p5-4"><text class="t" x="1827" y="2768.7">四、取得的成绩</text></g>
<g id="p5-4a">
<text class="t" x="1933" y="2755.4"><tspan x="1933">针对近年来地理统考的研究、分析，及时组织</tspan><tspan x="1933" dy="13.3">复习，先后模拟测试3次，估计平均分在75分</tspan><tspan x="1933" dy="13.3">左右。</tspan></text>
</g>
<g id="p5-5"><text class="t" x="1827" y="2847">五、存在的问题</text></g>
<g id="p5-5a">
<text class="t" x="1933" y="2827"><tspan x="1933">本学期进入复习以来，加之在学生前期，耽误</tspan><tspan x="1933" dy="13.3">了最为宝贵的复习阶段的，没有能组织系统的</tspan><tspan x="1933" dy="13.3">复习，不可避免会给教学工作带来了较大的影</tspan><tspan x="1933" dy="13.3">响。</tspan></text>
</g>
<g id="p5-6"><text class="t" x="1827" y="2918.7">六、今后的努力目标</text></g>
<g id="p5-6a">
<text class="t" x="1953" y="2912"><tspan x="1953">今后的教学工作，应以素质教育为突破点，培</tspan><tspan x="1953" dy="13.3">养学生技能。</tspan></text>
</g>

<g id="watermarks">
<text class="wm" transform="translate(355,705) rotate(-35)">树图 shutu.cn</text>
<text class="wm" transform="translate(355,1715) rotate(-35)">树图 shutu.cn</text>
<text class="wm" transform="translate(355,2725) rotate(-35)">树图 shutu.cn</text>
<text class="wm" transform="translate(355,3735) rotate(-35)">树图 shutu.cn</text>
<text class="wm" transform="translate(1620,700) rotate(-35)">树图 shutu.cn</text>
<text class="wm" transform="translate(1620,1710) rotate(-35)">树图 shutu.cn</text>
<text class="wm" transform="translate(1620,2720) rotate(-35)">树图 shutu.cn</text>
<text class="wm" transform="translate(1620,3730) rotate(-35)">树图 shutu.cn</text>
</g>
</svg>
